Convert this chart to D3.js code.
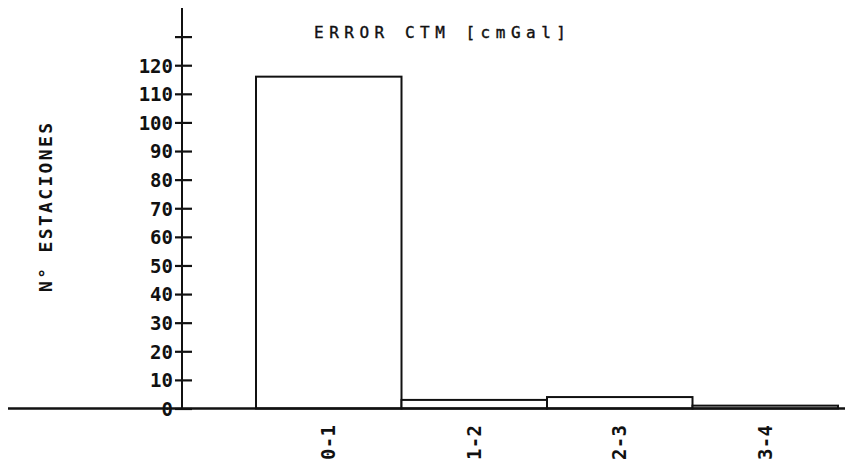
<!DOCTYPE html>
<html>
<head>
<meta charset="utf-8">
<script src="https://cdn.jsdelivr.net/npm/d3@7"></script>
<style>
	body { margin: 0; background: #fff; }
	svg text { font-family: "DejaVu Sans Mono", monospace; fill: #111; }
</style>
</head>
<body>
<svg id="plot" width="849" height="468"></svg>
<script>
// Histogram of CTM error classes
const CLASSES = ['0-1', '1-2', '2-3', '3-4'];
const COUNTS = [116, 3, 4, 1];
const TICK_VALUES = [0, 10, 20, 30, 40, 50, 60, 70, 80, 90, 100, 110, 120, 130];
const TITLE = 'ERROR CTM [cmGal]';
const Y_TITLE = 'N° ESTACIONES';

function whenDocumentLoaded(action) {
	if (document.readyState === "loading") {
		document.addEventListener("DOMContentLoaded", action);
	} else {
		action();
	}
}

whenDocumentLoaded(() => {
	const svg = d3.select('#plot');
	const data = CLASSES.map((c, i) => ({ name: c, value: COUNTS[i] }));

	const x = d3.scaleBand()
		.domain(CLASSES)
		.range([256, 838])
		.padding(0);

	const y = d3.scaleLinear()
		.domain([0, 140])
		.range([408.5, 8]);

	// bars
	svg.append('g')
		.selectAll('rect')
		.data(data)
		.enter().append('rect')
		.attr('x', d => x(d.name))
		.attr('y', d => y(d.value))
		.attr('width', x.bandwidth())
		.attr('height', d => y(0) - y(d.value))
		.attr('fill', '#fff')
		.attr('stroke', '#111')
		.attr('stroke-width', 2);

	// baseline
	svg.append('line')
		.attr('x1', 8).attr('x2', 845)
		.attr('y1', y(0)).attr('y2', y(0))
		.attr('stroke', '#111')
		.attr('stroke-width', 2.5);

	// y axis: crossing ticks
	const yAxis = d3.axisLeft(y)
		.tickValues(TICK_VALUES)
		.tickSize(0)
		.tickPadding(9)
		.tickFormat(d => d <= 120 ? d : '');
	const gy = svg.append('g')
		.attr('transform', 'translate(182,0)')
		.call(yAxis);
	gy.select('.domain').remove();
	gy.selectAll('.tick').append('line')
		.attr('x1', -7).attr('x2', 10)
		.attr('stroke', '#111')
		.attr('stroke-width', 2.2);
	gy.selectAll('.tick text')
		.attr('font-family', '"DejaVu Sans Mono", monospace')
		.attr('font-size', 19)
		.attr('font-weight', 'bold')
		.attr('dy', '0.36em')
		.attr('fill', '#111');
	gy.append('line')
		.attr('x1', 0).attr('x2', 0)
		.attr('y1', y(140)).attr('y2', y(0))
		.attr('stroke', '#111')
		.attr('stroke-width', 2);

	// x labels, rotated
	svg.append('g')
		.selectAll('text')
		.data(CLASSES)
		.enter().append('text')
		.text(d => d)
		.attr('transform', d => `translate(${x(d) + x.bandwidth() / 2 + 6.5},425) rotate(-90)`)
		.attr('text-anchor', 'end')
		.attr('font-size', 19)
		.attr('font-weight', 'bold')
		.attr('textLength', 35)
		.attr('lengthAdjust', 'spacing');

	// title
	svg.append('text')
		.text(TITLE)
		.attr('x', 314)
		.attr('y', 38)
		.attr('font-size', 16)
		.attr('stroke', '#111')
		.attr('stroke-width', 0.4)
		.attr('textLength', 252)
		.attr('lengthAdjust', 'spacing');

	// y title
	svg.append('text')
		.text(Y_TITLE)
		.attr('transform', 'translate(52,292) rotate(-90)')
		.attr('font-size', 18)
		.attr('font-weight', 'bold')
		.attr('textLength', 169)
		.attr('lengthAdjust', 'spacing');
});
</script>
</body>
</html>
